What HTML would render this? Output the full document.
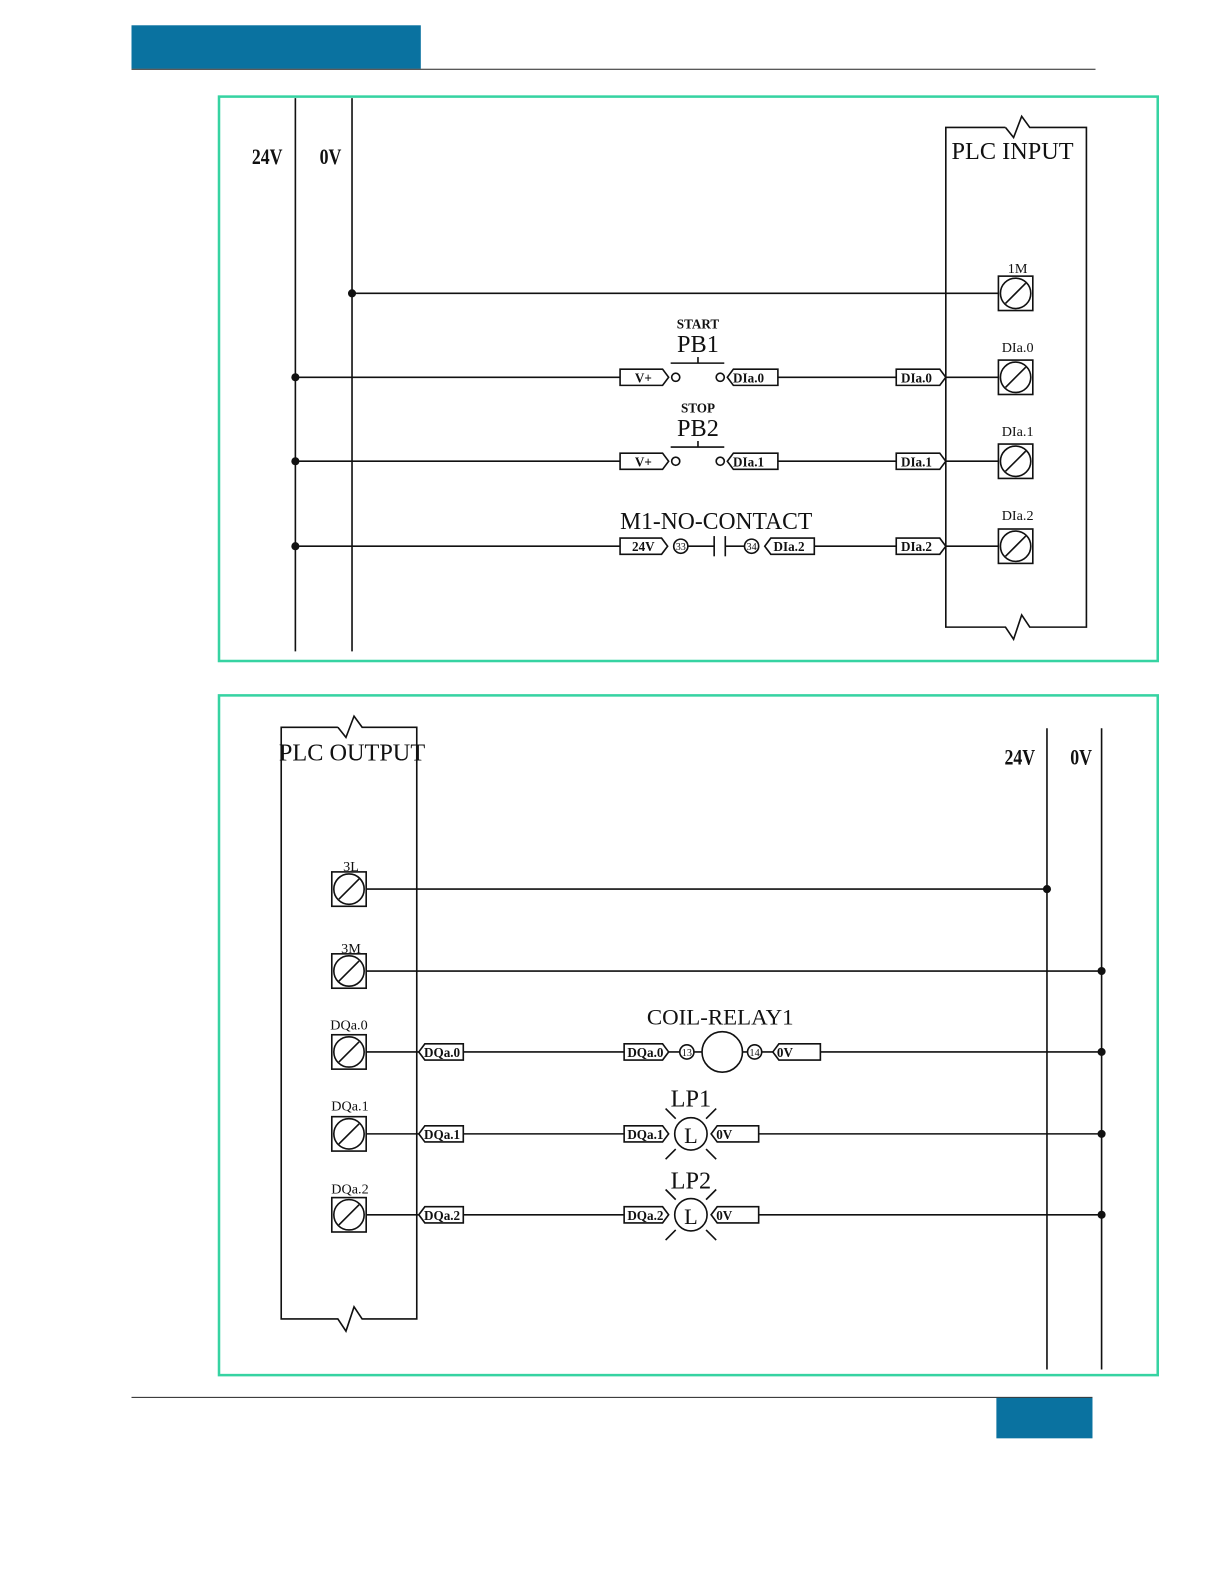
<!DOCTYPE html>
<html><head><meta charset="utf-8"><style>
html,body{margin:0;padding:0;background:#fff;width:1225px;height:1585px;overflow:hidden;}
svg{display:block;position:absolute;left:0;top:0;}
text{font-family:"Liberation Serif",serif;fill:#111;}
</style></head><body>
<svg width="1225" height="1585" viewBox="0 0 1211 1567" preserveAspectRatio="none" xmlns="http://www.w3.org/2000/svg">
<defs>
<g id="term">
<rect x="-17" y="-17" width="34" height="34" fill="none" stroke="#111" stroke-width="1.6"/>
<circle r="15" fill="none" stroke="#111" stroke-width="1.6"/>
<line x1="-10" y1="10" x2="10" y2="-10" stroke="#111" stroke-width="1.6"/>
</g>
</defs>
<rect x="130" y="25" width="286" height="43" fill="#0a72a0"/>
<line x1="130" y1="68.5" x2="1083" y2="68.5" stroke="#222" stroke-width="1"/>
<line x1="130" y1="1381.5" x2="1080" y2="1381.5" stroke="#222" stroke-width="1"/>
<rect x="985" y="1382" width="95" height="40" fill="#0a72a0"/>

<rect x="216.5" y="95.5" width="928" height="558" fill="none" stroke="#36d3a2" stroke-width="2.5"/>
<rect x="216.5" y="687.5" width="928" height="672" fill="none" stroke="#36d3a2" stroke-width="2.5"/>

<g stroke="#111" stroke-width="1.6" fill="none">
<line x1="292" y1="97" x2="292" y2="644"/>
<line x1="348" y1="97" x2="348" y2="644"/>
<path d="M994 126 H935 V620 H994 L1002 632 L1010 608 L1018 620 H1074 V126 H1018 L1010 115 L1002 136 L994 126"/>
<line x1="348" y1="290" x2="987" y2="290"/>
<line x1="292" y1="373" x2="613" y2="373"/>
<line x1="769" y1="373" x2="886" y2="373"/>
<line x1="935" y1="373" x2="987" y2="373"/>
<line x1="292" y1="456" x2="613" y2="456"/>
<line x1="769" y1="456" x2="886" y2="456"/>
<line x1="935" y1="456" x2="987" y2="456"/>
<line x1="292" y1="540" x2="613" y2="540"/>
<line x1="805" y1="540" x2="886" y2="540"/>
<line x1="935" y1="540" x2="987" y2="540"/>
<path d="M613 365 H655 L661 373 L655 381 H613 Z"/>
<circle cx="668" cy="373" r="4"/>
<circle cx="712" cy="373" r="4"/>
<path d="M725 365 H769 V381 H725 L719 373 Z"/>
<path d="M886 365 H929 L935 373 L929 381 H886 Z"/>
<line x1="663" y1="359" x2="716" y2="359"/><line x1="690" y1="359" x2="690" y2="353"/>
<path d="M613 448 H655 L661 456 L655 464 H613 Z"/>
<circle cx="668" cy="456" r="4"/>
<circle cx="712" cy="456" r="4"/>
<path d="M725 448 H769 V464 H725 L719 456 Z"/>
<path d="M886 448 H929 L935 456 L929 464 H886 Z"/>
<line x1="663" y1="442" x2="716" y2="442"/><line x1="690" y1="442" x2="690" y2="436"/>
<path d="M613 532 H654 L660 540 L654 548 H613 Z"/>
<circle cx="673" cy="540" r="7"/>
<line x1="680" y1="540" x2="706" y2="540"/>
<line x1="706" y1="530" x2="706" y2="550"/>
<line x1="717" y1="530" x2="717" y2="550"/>
<line x1="717" y1="540" x2="736" y2="540"/>
<circle cx="743" cy="540" r="7"/>
<path d="M762 532 H805 V548 H762 L756 540 Z"/>
<path d="M886 532 H929 L935 540 L929 548 H886 Z"/>

<line x1="1035" y1="720" x2="1035" y2="1354"/>
<line x1="1089" y1="720" x2="1089" y2="1354"/>
<path d="M334 719 H278 V1304 H334 L342 1316 L350 1292 L358 1304 H412 V719 H358 L350 708 L342 729 L334 719"/>
<line x1="362" y1="879" x2="1035" y2="879"/>
<line x1="362" y1="960" x2="1089" y2="960"/>
<line x1="362" y1="1040" x2="414" y2="1040"/>
<line x1="458" y1="1040" x2="617" y2="1040"/>
<line x1="811" y1="1040" x2="1089" y2="1040"/>
<line x1="362" y1="1121" x2="414" y2="1121"/>
<line x1="458" y1="1121" x2="617" y2="1121"/>
<line x1="750" y1="1121" x2="1089" y2="1121"/>
<line x1="362" y1="1201" x2="414" y2="1201"/>
<line x1="458" y1="1201" x2="617" y2="1201"/>
<line x1="750" y1="1201" x2="1089" y2="1201"/>
<path d="M420 1032 H458 V1048 H420 L414 1040 Z"/>
<path d="M420 1113 H458 V1129 H420 L414 1121 Z"/>
<path d="M420 1193 H458 V1209 H420 L414 1201 Z"/>
<path d="M617 1032 H655 L661 1040 L655 1048 H617 Z"/>
<line x1="661" y1="1040" x2="672" y2="1040"/>
<circle cx="679" cy="1040" r="7"/>
<line x1="686" y1="1040" x2="694" y2="1040"/>
<circle cx="714" cy="1040" r="20"/>
<line x1="734" y1="1040" x2="739" y2="1040"/>
<circle cx="746" cy="1040" r="7"/>
<line x1="753" y1="1040" x2="764" y2="1040"/>
<path d="M770 1032 H811 V1048 H770 L764 1040 Z"/>
<path d="M617 1113 H655 L661 1121 L655 1129 H617 Z"/>
<circle cx="683" cy="1121" r="16"/>
<path d="M709 1113 H750 V1129 H709 L703 1121 Z"/>
<path d="M658 1096 L668 1106 M708 1096 L698 1106 M658 1146 L668 1136 M708 1146 L698 1136"/>
<path d="M617 1193 H655 L661 1201 L655 1209 H617 Z"/>
<circle cx="683" cy="1201" r="16"/>
<path d="M709 1193 H750 V1209 H709 L703 1201 Z"/>
<path d="M658 1176 L668 1186 M708 1176 L698 1186 M658 1226 L668 1216 M708 1226 L698 1216"/>
</g>

<g fill="#111">
<circle cx="348" cy="290" r="4"/>
<circle cx="292" cy="373" r="4"/>
<circle cx="292" cy="456" r="4"/>
<circle cx="292" cy="540" r="4"/>
<circle cx="1035" cy="879" r="4"/>
<circle cx="1089" cy="960" r="4"/>
<circle cx="1089" cy="1040" r="4"/>
<circle cx="1089" cy="1121" r="4"/>
<circle cx="1089" cy="1201" r="4"/>
</g>

<use href="#term" x="1004" y="290"/>
<use href="#term" x="1004" y="373"/>
<use href="#term" x="1004" y="456"/>
<use href="#term" x="1004" y="540"/>
<use href="#term" x="345" y="879"/>
<use href="#term" x="345" y="960"/>
<use href="#term" x="345" y="1040"/>
<use href="#term" x="345" y="1121"/>
<use href="#term" x="345" y="1201"/>

<g font-weight="bold" font-size="22">
<text x="249" y="162" transform="translate(249 162) scale(0.8 1) translate(-249 -162)">24V</text>
<text x="316" y="162" transform="translate(316 162) scale(0.8 1) translate(-316 -162)">0V</text>
<text x="993" y="756" transform="translate(993 756) scale(0.8 1) translate(-993 -756)">24V</text>
<text x="1058" y="756" transform="translate(1058 756) scale(0.8 1) translate(-1058 -756)">0V</text>
</g>
<text x="1001" y="157" font-size="24" text-anchor="middle">PLC INPUT</text>
<text x="348" y="752" font-size="24" text-anchor="middle">PLC OUTPUT</text>
<g font-size="14" text-anchor="middle">
<text x="1006" y="270">1M</text>
<text x="1006" y="348">DIa.0</text>
<text x="1006" y="431">DIa.1</text>
<text x="1006" y="514">DIa.2</text>
<text x="347" y="861">3L</text>
<text x="347" y="942">3M</text>
<text x="345" y="1018">DQa.0</text>
<text x="346" y="1098">DQa.1</text>
<text x="346" y="1180">DQa.2</text>
</g>
<g font-size="13" font-weight="bold" text-anchor="middle">
<text x="636" y="378">V+</text>
<text x="740" y="378">DIa.0</text>
<text x="906" y="378">DIa.0</text>
<text x="636" y="461">V+</text>
<text x="740" y="461">DIa.1</text>
<text x="906" y="461">DIa.1</text>
<text x="636" y="545">24V</text>
<text x="780" y="545">DIa.2</text>
<text x="906" y="545">DIa.2</text>
<text x="437" y="1045">DQa.0</text>
<text x="437" y="1126">DQa.1</text>
<text x="437" y="1206">DQa.2</text>
<text x="638" y="1045">DQa.0</text>
<text x="638" y="1126">DQa.1</text>
<text x="638" y="1206">DQa.2</text>
<text x="776" y="1045">0V</text>
<text x="716" y="1126">0V</text>
<text x="716" y="1206">0V</text>
<text x="690" y="325" font-size="13">START</text>
<text x="690" y="408" font-size="13">STOP</text>
</g>
<g font-size="10" text-anchor="middle">
<text x="673" y="544">33</text><text x="743" y="544">34</text>
<text x="679" y="1044">13</text><text x="746" y="1044">14</text>
</g>
<g font-size="24" text-anchor="middle">
<text x="690" y="348">PB1</text>
<text x="690" y="431">PB2</text>
<text x="683" y="1094">LP1</text>
<text x="683" y="1175">LP2</text>
<text x="683" y="1130" font-size="22">L</text>
<text x="683" y="1210" font-size="22">L</text>
</g>
<text x="708" y="523" font-size="24" text-anchor="middle" textLength="190" lengthAdjust="spacingAndGlyphs">M1-NO-CONTACT</text>
<text x="712" y="1013" font-size="22" text-anchor="middle" textLength="145" lengthAdjust="spacingAndGlyphs">COIL-RELAY1</text>
</svg>
</body></html>
